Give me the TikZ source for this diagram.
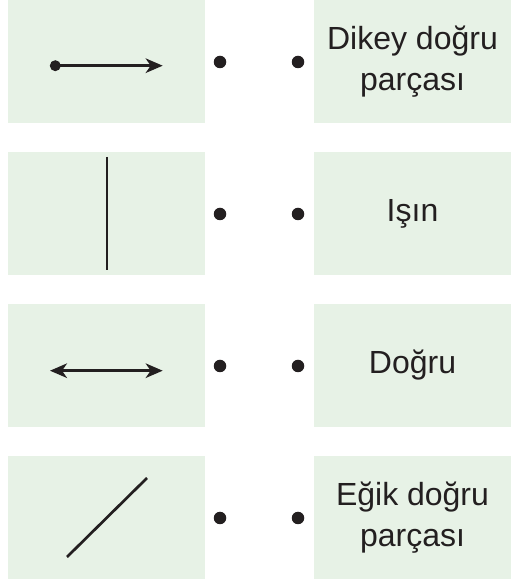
\documentclass[tikz,border=0pt]{standalone}
\usepackage{fontspec}
\setmainfont{Liberation Sans}
\usetikzlibrary{arrows.meta}
\definecolor{boxgreen}{RGB}{231,242,230}
\definecolor{ink}{RGB}{35,31,32}
\begin{document}
\begin{tikzpicture}[x=1pt,y=1pt,
  panel/.style={fill=boxgreen, draw=none, minimum width=197pt, minimum height=123pt, inner sep=0pt},
  txt/.style={text=ink, align=center, font=\fontsize{32}{41}\selectfont},
  bigdot/.style={circle, fill=ink, draw=none, inner sep=0pt, minimum size=12.5pt},
  enddot/.style={circle, fill=ink, draw=none, inner sep=0pt, minimum size=11pt},
  seg/.style={draw=ink, line width=2.7pt},
  tipend/.style={-{Stealth[length=17pt,width=14.5pt,inset=5pt]}},
  tipboth/.style={{Stealth[length=17pt,width=14.5pt,inset=5pt]}-{Stealth[length=17pt,width=14.5pt,inset=5pt]}}
]
\useasboundingbox (0,0) rectangle (515,583);
% left panels
\node[panel] (L1) at (106.5,521.5) {};
\node[panel] (L2) at (106.5,369.5) {};
\node[panel] (L3) at (106.5,217.5) {};
\node[panel] (L4) at (106.5,65.5) {};
% right panels with texts
\node[panel,txt] (R1) at (412.5,521.5) {Dikey doğru\\parçası};
\node[panel,txt] (R2) at (412.5,369.5) {Işın};
\node[panel,txt] (R3) at (412.5,217.5) {Doğru};
\node[panel,txt] (R4) at (412.5,65.5) {Eğik doğru\\parçası};
% matching dots
\node[bigdot] (d1l) at (220,521) {};
\node[bigdot] (d1r) at (298,521) {};
\node[bigdot] (d2l) at (220,369) {};
\node[bigdot] (d2r) at (298,369) {};
\node[bigdot] (d3l) at (220,217) {};
\node[bigdot] (d3r) at (298,217) {};
\node[bigdot] (d4l) at (220,65) {};
\node[bigdot] (d4r) at (298,65) {};
% figure 1: ray
\node[enddot] (a1) at (55.3,517.3) {};
\coordinate (a1e) at (162.7,517.3);
\draw[seg,tipend] (a1.center) -- (a1e);
% figure 2: vertical segment
\coordinate (a2s) at (107,426);
\coordinate (a2e) at (107,313);
\draw[seg] (a2s) -- (a2e);
% figure 3: line
\coordinate (a3s) at (50,212.3);
\coordinate (a3e) at (162.7,212.3);
\draw[seg,tipboth] (a3s) -- (a3e);
% figure 4: oblique segment
\coordinate (a4s) at (67,26);
\coordinate (a4e) at (147,105);
\draw[seg] (a4s) -- (a4e);
\end{tikzpicture}
\end{document}
